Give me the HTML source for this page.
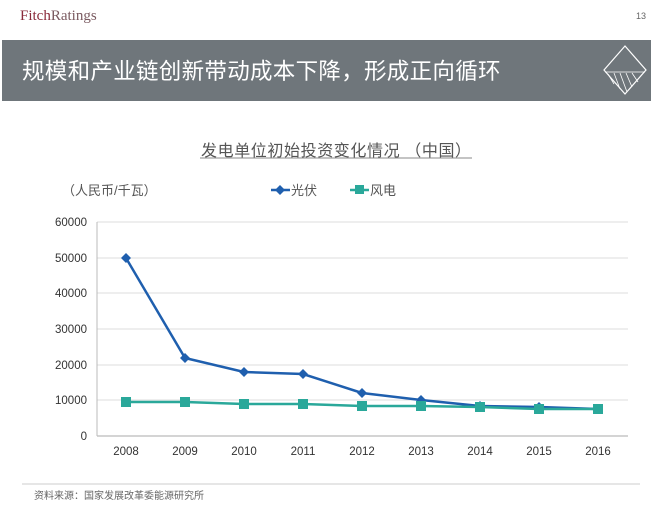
<!DOCTYPE html>
<html><head><meta charset="utf-8"><style>
body{margin:0;width:651px;height:511px;background:#fff;overflow:hidden;font-family:"Liberation Sans","Noto Sans CJK SC",sans-serif;}
</style></head><body>
<svg width="651" height="511" xmlns="http://www.w3.org/2000/svg" font-family="Liberation Sans, Noto Sans CJK SC, sans-serif">
<text x="20" y="20" font-family="Liberation Serif, serif" font-size="15" fill="#8a2a3a">Fitch<tspan fill="#7a5a60">Ratings</tspan></text>
<text x="636" y="19" font-size="9" fill="#666">13</text>
<rect x="2" y="40" width="649" height="61" fill="#6f767b"/>
<text x="22" y="79" font-size="22.5" fill="#fff" letter-spacing="0.3">规模和产业链创新带动成本下降，形成正向循环</text>
<g stroke="#fff" fill="none" stroke-width="1.2"><polygon points="625,46 646,70 625,94 604,70"/></g>
<g stroke="#fff" stroke-width="0.8"><line x1="608" y1="74" x2="614" y2="84"/><line x1="614" y1="73" x2="620" y2="89"/><line x1="620" y1="73" x2="627" y2="92"/><line x1="626" y1="73" x2="632" y2="87"/><line x1="632" y1="73" x2="638" y2="82"/><line x1="605" y1="72" x2="645" y2="72"/></g>
<text x="201" y="156" font-size="16" fill="#555" letter-spacing="0.6">发电单位初始投资变化情况 （中国）</text>
<line x1="200" y1="158" x2="472" y2="158" stroke="#888" stroke-width="1"/>
<text x="62" y="195" font-size="13" fill="#555">（人民币/千瓦）</text>
<line x1="271" y1="190" x2="290" y2="190" stroke="#1f5fae" stroke-width="2.5"/><polygon points="280,185 285,190 280,195 275,190" fill="#1f5fae"/>
<text x="291" y="195" font-size="13" fill="#555">光伏</text>
<line x1="350" y1="190" x2="369" y2="190" stroke="#2aa89a" stroke-width="2.5"/><rect x="355" y="185" width="9" height="9" fill="#2aa89a"/>
<text x="370" y="195" font-size="13" fill="#555">风电</text>
<g stroke="#ddd" stroke-width="1">
<line x1="97" y1="222" x2="628" y2="222"/><line x1="97" y1="258" x2="628" y2="258"/><line x1="97" y1="293" x2="628" y2="293"/><line x1="97" y1="329" x2="628" y2="329"/><line x1="97" y1="365" x2="628" y2="365"/><line x1="97" y1="400" x2="628" y2="400"/>
</g>
<line x1="97" y1="436" x2="628" y2="436" stroke="#aaa"/>
<line x1="97" y1="222" x2="97" y2="436" stroke="#bbb"/>
<g font-size="11.5" fill="#333" text-anchor="end">
<text x="87" y="226">60000</text><text x="87" y="262">50000</text><text x="87" y="297">40000</text><text x="87" y="333">30000</text><text x="87" y="369">20000</text><text x="87" y="404">10000</text><text x="87" y="440">0</text>
</g>
<g font-size="11.5" fill="#333" text-anchor="middle">
<text x="126" y="455">2008</text><text x="185" y="455">2009</text><text x="244" y="455">2010</text><text x="303" y="455">2011</text><text x="362" y="455">2012</text><text x="421" y="455">2013</text><text x="480" y="455">2014</text><text x="539" y="455">2015</text><text x="598" y="455">2016</text>
</g>
<polyline fill="none" stroke="#1f5fae" stroke-width="2.5" points="126,258 185,358 244,372 303,374 362,393 421,400 480,406 539,407 598,409"/>
<polyline fill="none" stroke="#2aa89a" stroke-width="2.5" points="126,402 185,402 244,404 303,404 362,406 421,406 480,407 539,409 598,409"/>
<g fill="#1f5fae">
<polygon points="126,253 131,258 126,263 121,258"/><polygon points="185,353 190,358 185,363 180,358"/><polygon points="244,367 249,372 244,377 239,372"/><polygon points="303,369 308,374 303,379 298,374"/><polygon points="362,388 367,393 362,398 357,393"/><polygon points="421,395 426,400 421,405 416,400"/><polygon points="480,401 485,406 480,411 475,406"/><polygon points="539,402 544,407 539,412 534,407"/><polygon points="598,404 603,409 598,414 593,409"/>
</g>
<g fill="#2aa89a">
<rect x="121" y="397" width="10" height="10"/><rect x="180" y="397" width="10" height="10"/><rect x="239" y="399" width="10" height="10"/><rect x="298" y="399" width="10" height="10"/><rect x="357" y="401" width="10" height="10"/><rect x="416" y="401" width="10" height="10"/><rect x="475" y="402" width="10" height="10"/><rect x="534" y="404" width="10" height="10"/><rect x="593" y="404" width="10" height="10"/>
</g>
<line x1="22" y1="484" x2="640" y2="484" stroke="#ccc"/>
<text x="34" y="499" font-size="10" fill="#666">资料来源：国家发展改革委能源研究所</text>
</svg>
</body></html>
